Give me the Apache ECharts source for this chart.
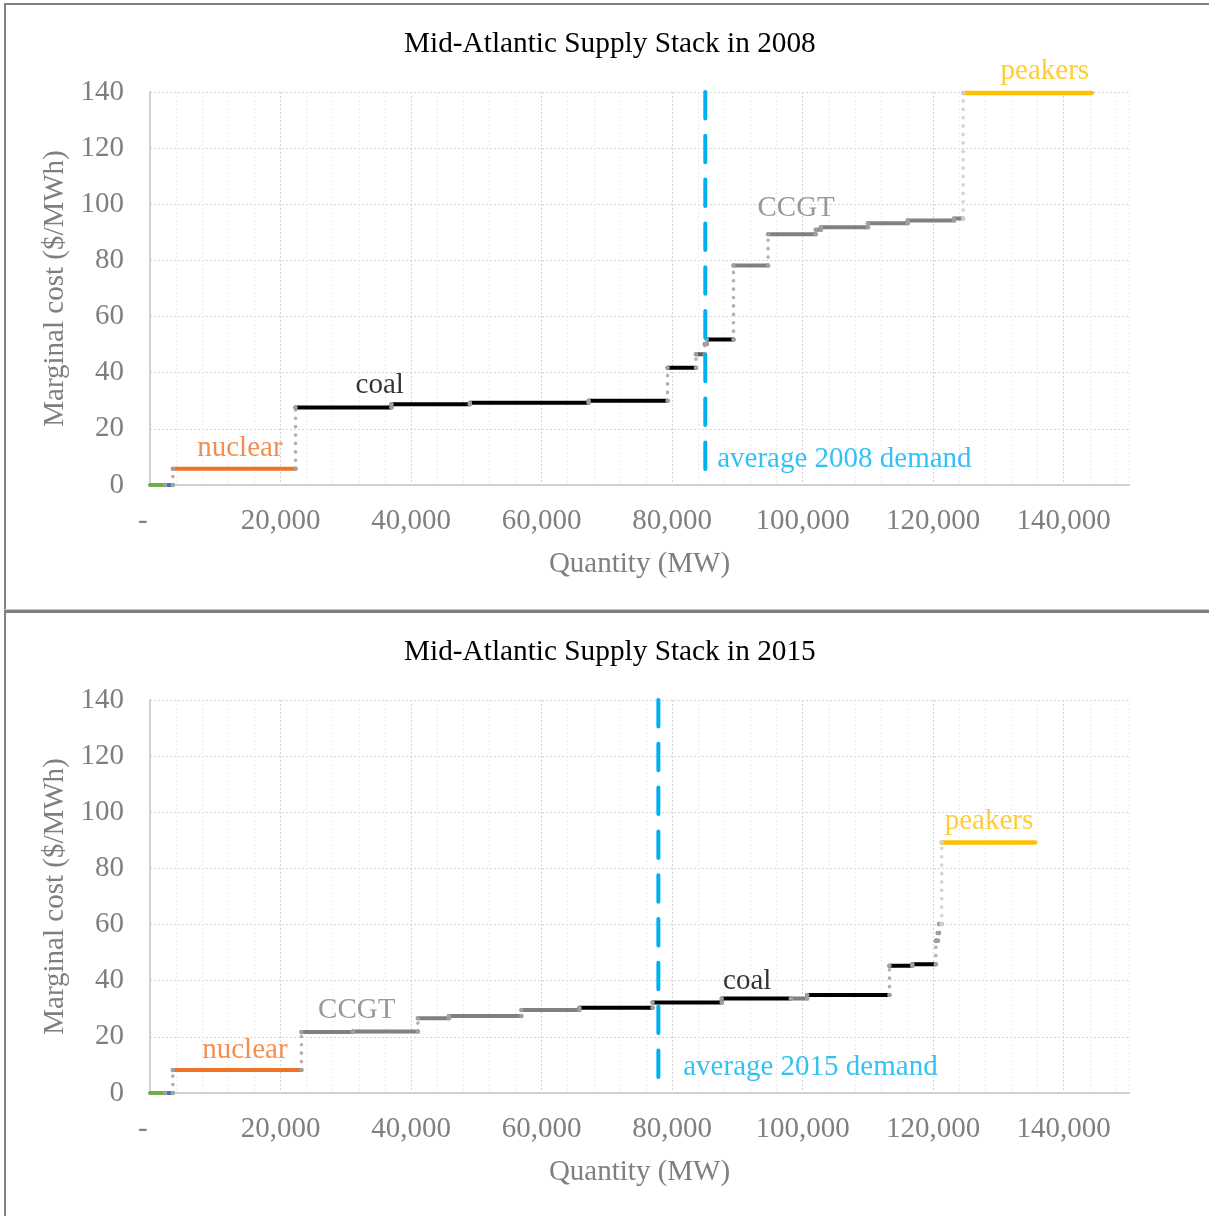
<!DOCTYPE html>
<html><head><meta charset="utf-8">
<script src="https://cdn.jsdelivr.net/npm/echarts@6/dist/echarts.min.js"></script>
<style>html,body{margin:0;padding:0;background:#fff}#c{width:1209px;height:1216px}</style>
</head><body><div id="c"></div>
<script>
// ---------- data ----------
const titles = ['Mid-Atlantic Supply Stack in 2008', 'Mid-Atlantic Supply Stack in 2015'];

// 2008 supply stack: segment boundaries (MW), marginal cost ($/MWh), fuel type
const breaks2008 = [0, 2300, 3500, 22300, 37000, 49000, 67200, 79300, 83650, 85000, 85300, 89400, 94700, 102000, 102800, 110000, 116100, 123200, 124600, 144300];
const costs2008  = [0, 0, 5.8, 27.6, 28.8, 29.3, 30.0, 41.8, 46.6, 50.2, 51.8, 78.2, 89.3, 90.9, 91.8, 93.2, 94.2, 94.9, 139.6];
const fuels2008  = ['wind','hydro','nuclear','coal','coal','coal','coal','coal','gas','coal','coal','ccgt','ccgt','ccgt','ccgt','ccgt','ccgt','ccgt','peaker'];
const demand2008 = 85080;

// 2015 supply stack
const breaks2015 = [0, 2300, 3500, 23200, 31100, 41050, 45800, 56900, 65800, 77000, 87600, 98200, 100700, 113300, 116800, 120400, 120700, 120900, 121300, 135600];
const costs2015  = [0, 0, 8.2, 21.7, 21.9, 26.6, 27.4, 29.6, 30.4, 32.2, 33.7, 33.7, 34.9, 45.3, 45.9, 54.2, 57.0, 60.2, 89.2];
const fuels2015  = ['wind','hydro','nuclear','ccgt','ccgt','ccgt','ccgt','ccgt','coal','coal','coal','ccgt','coal','coal','coal','coal','gas','coal','peaker'];
const demand2015 = 77890;

// annotation texts and their anchor positions (data coords)
const labels2008 = ['nuclear', 'coal', 'CCGT', 'peakers', 'average 2008 demand'];
const labelX2008 = [13770, 35200, 99000, 137100, 86900];
const labelY2008 = [13.2, 35.4, 98.7, 147.2, 9.0];
const labelFuel2008 = ['nuclear', 'coal', 'ccgt', 'peaker', 'demand'];

const labels2015 = ['nuclear', 'CCGT', 'coal', 'peakers', 'average 2015 demand'];
const labelX2015 = [14540, 31680, 91500, 128540, 81700];
const labelY2015 = [15.3, 29.6, 39.9, 96.6, 9.0];
const labelFuel2015 = ['nuclear', 'ccgt', 'coal', 'peaker', 'demand'];

// axis
const xMax = 150000, xStep = 4000, xLabelStep = 20000;
const yMax = 140, yStep = 20;

// ---------- styles ----------
const FONT = 'Liberation Serif, Times New Roman, serif';
const colors = {
  wind: '#70AD47', hydro: '#4472C4', nuclear: '#F07226', coal: '#000000',
  gas: '#595959', ccgt: '#808080', peaker: '#FFC000', demand: '#00B0F0'
};
const textColors = { nuclear: '#F07226', coal: '#000000', ccgt: '#7F7F7F', peaker: '#FFC000', demand: '#00B0F0' };

function buildSeries(g, breaks, costs, fuels, demand, labels, lx, ly, lf) {
  const s = [];
  for (let i = 0; i < costs.length; i++) {
    s.push({
      type: 'line', xAxisIndex: g, yAxisIndex: g, silent: true, animation: false,
      clip: false, showSymbol: false, z: 3,
      data: [[breaks[i], costs[i]], [breaks[i + 1], costs[i]]],
      lineStyle: { color: colors[fuels[i]], width: fuels[i] === 'peaker' ? 4.5 : 4, cap: 'round' }
    });
  }
  for (let i = 1; i < costs.length; i++) {
    const isPeak = fuels[i] === 'peaker';
    s.push({
      type: 'line', xAxisIndex: g, yAxisIndex: g, silent: true, animation: false,
      clip: false, z: 4, symbol: 'circle', symbolSize: 4.5, showSymbol: true,
      itemStyle: { color: isPeak ? '#cfcfcf' : '#a0a0a0' },
      data: [[breaks[i], costs[i - 1]], [breaks[i], costs[i]]],
      lineStyle: { color: isPeak ? '#d4d4d4' : '#b0b0b0', width: 3.6, type: [0.1, 8.3], cap: 'round' }
    });
  }
  s.push({
    type: 'line', xAxisIndex: g, yAxisIndex: g, silent: true, animation: false,
    clip: false, showSymbol: false, z: 5,
    data: [[demand, yMax], [demand, 4.5]],
    lineStyle: { color: colors.demand, width: 4, type: [26.5, 17.3], cap: 'round' }
  });
  s.push({
    type: 'scatter', xAxisIndex: g, yAxisIndex: g, silent: true, animation: false,
    clip: false, symbolSize: 0, z: 6,
    data: labels.map((t, i) => ({
      value: [lx[i], ly[i]], name: t,
      label: {
        show: true, position: 'inside', formatter: t,
        align: lf[i] === 'demand' ? 'left' : 'center', verticalAlign: 'middle',
        color: textColors[lf[i]], fontFamily: FONT, fontSize: 29
      }
    }))
  });
  return s;
}

function xAxisCfg(g) {
  return {
    type: 'value', gridIndex: g, min: 0, max: xMax, interval: xStep,
    name: 'Quantity (MW)', nameLocation: 'middle', nameGap: 65,
    nameTextStyle: { color: '#7F7F7F', fontFamily: FONT, fontSize: 29 },
    axisLine: { show: true, lineStyle: { color: '#d0d0d0', width: 2 } },
    axisTick: { show: false },
    axisLabel: {
      interval: 0, margin: 22, color: '#7F7F7F', fontFamily: FONT, fontSize: 29,
      formatter: v => v === 0 ? '-  ' : (v % xLabelStep === 0 && v < xMax ? v.toLocaleString('en-US') : '')
    },
    splitLine: { show: true, lineStyle: { color: ['#d4d4d4', '#ebebeb', '#ebebeb', '#ebebeb', '#ebebeb'], width: 1, type: [2, 2] } }
  };
}
function yAxisCfg(g) {
  return {
    type: 'value', gridIndex: g, min: 0, max: yMax, interval: yStep,
    name: 'Marginal cost ($/MWh)', nameLocation: 'middle', nameGap: 71,
    nameTextStyle: { color: '#7F7F7F', fontFamily: FONT, fontSize: 29 },
    axisLine: { show: true, lineStyle: { color: '#d0d0d0', width: 2 } },
    axisTick: { show: false },
    axisLabel: { margin: 26, color: '#7F7F7F', fontFamily: FONT, fontSize: 29 },
    splitLine: { show: true, lineStyle: { color: '#d4d4d4', width: 1, type: [2, 2] } }
  };
}

const chart = echarts.init(document.getElementById('c'), null, { renderer: 'canvas' });
chart.setOption({
  backgroundColor: '#fff',
  animation: false,
  title: [
    { text: titles[0], left: 399, top: 25, textStyle: { color: '#000', fontFamily: FONT, fontSize: 29.3, fontWeight: 'normal' } },
    { text: titles[1], left: 399, top: 633, textStyle: { color: '#000', fontFamily: FONT, fontSize: 29.3, fontWeight: 'normal' } }
  ],
  grid: [
    { left: 150, top: 92, width: 979, height: 393 },
    { left: 150, top: 700, width: 979, height: 393 }
  ],
  xAxis: [xAxisCfg(0), xAxisCfg(1)],
  yAxis: [yAxisCfg(0), yAxisCfg(1)],
  graphic: [
    { type: 'rect', shape: { x: 4, y: 3, width: 2, height: 1213 }, style: { fill: '#808080' }, silent: true },
    { type: 'rect', shape: { x: 4, y: 3, width: 1205, height: 2 }, style: { fill: '#808080' }, silent: true },
    { type: 'rect', shape: { x: 4, y: 609, width: 1205, height: 1 }, style: { fill: '#c8c8c8' }, silent: true },
    { type: 'rect', shape: { x: 4, y: 610, width: 1205, height: 3 }, style: { fill: '#808080' }, silent: true }
  ],
  series: [].concat(
    buildSeries(0, breaks2008, costs2008, fuels2008, demand2008, labels2008, labelX2008, labelY2008, labelFuel2008),
    buildSeries(1, breaks2015, costs2015, fuels2015, demand2015, labels2015, labelX2015, labelY2015, labelFuel2015)
  )
});
</script></body></html>
